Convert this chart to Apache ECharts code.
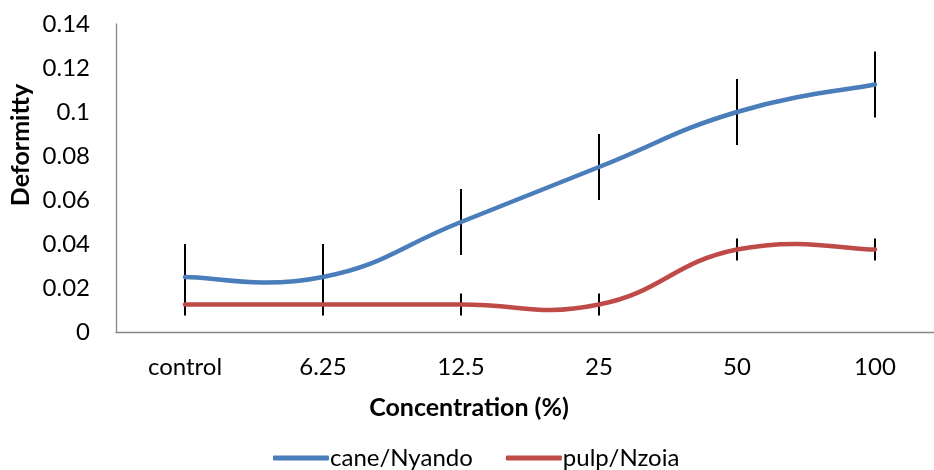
<!DOCTYPE html>
<html>
<head>
<meta charset="utf-8">
<script src="https://cdn.jsdelivr.net/npm/echarts@6/dist/echarts.min.js"></script>
<style>html,body{margin:0;padding:0;background:#fff}#c{width:934px;height:470px}</style>
</head>
<body>
<div id="c"></div>
<script>
const categories = ['control', '6.25', '12.5', '25', '50', '100'];
const caneNyando = [0.025, 0.025, 0.05, 0.075, 0.1, 0.1125];
const pulpNzoia = [0.0125, 0.0125, 0.0125, 0.0125, 0.0375, 0.0375];
const caneErr = [0.015, 0.015, 0.015, 0.015, 0.015, 0.015];
const pulpErr = [0.005, 0.005, 0.005, 0.005, 0.005, 0.005];
const yTicks = [0, 0.02, 0.04, 0.06, 0.08, 0.1, 0.12, 0.14];

const FONT = 'Lato';
const BLUE = '#4A7EBB';
const RED = '#BE4B48';
const TENSION = 0.23;

const errData = [];
categories.forEach((c, i) => {
  errData.push([i, caneNyando[i] - caneErr[i], caneNyando[i] + caneErr[i]]);
  errData.push([i, pulpNzoia[i] - pulpErr[i], pulpNzoia[i] + pulpErr[i]]);
});

function smoothRender(arr, color) {
  return (params, api) => {
    const P = arr.map((v, i) => api.coord([i, v]));
    let d = 'M' + P[0][0] + ',' + P[0][1];
    for (let i = 0; i < P.length - 1; i++) {
      const p0 = P[i - 1] || P[i], p1 = P[i], p2 = P[i + 1], p3 = P[i + 2] || P[i + 1];
      const c1 = [p1[0] + (p2[0] - p0[0]) * TENSION, p1[1] + (p2[1] - p0[1]) * TENSION];
      const c2 = [p2[0] - (p3[0] - p1[0]) * TENSION, p2[1] - (p3[1] - p1[1]) * TENSION];
      d += ' C' + c1[0] + ',' + c1[1] + ' ' + c2[0] + ',' + c2[1] + ' ' + p2[0] + ',' + p2[1];
    }
    return { type: 'path', shape: { pathData: d }, style: { fill: 'none', stroke: color, lineWidth: 4.5, lineCap: 'round', lineJoin: 'round' } };
  };
}

const chart = echarts.init(document.getElementById('c'));
chart.setOption({
  animation: false,
  grid: { left: 116, width: 828, top: 24, height: 308, containLabel: false, outerBoundsMode: 'none' },
  legend: {
    left: 268, top: 441,
    data: ['cane/Nyando', 'pulp/Nzoia'],
    icon: 'roundRect', itemWidth: 56, itemHeight: 5, itemGap: 33,
    textStyle: { fontFamily: FONT, fontSize: 24, color: '#000', padding: [0, 0, 0, -4] }
  },
  xAxis: {
    type: 'category', data: categories, boundaryGap: true,
    axisLine: { lineStyle: { color: '#868686', width: 1.3 } },
    axisTick: { show: false },
    axisLabel: { fontFamily: FONT, fontSize: 24, color: '#000', margin: 23 }
  },
  yAxis: {
    type: 'value', min: 0, max: 0.14, interval: 0.02,
    splitLine: { show: false },
    axisLine: { show: true, lineStyle: { color: '#868686', width: 1.3 } },
    axisTick: { show: false },
    axisLabel: { fontFamily: FONT, fontSize: 24, color: '#000', margin: 26,
      formatter: v => { const t = yTicks.find(x => Math.abs(x - v) < 1e-9); return String(+((t ?? v).toFixed(4))); } }
  },
  graphic: [
    { type: 'text', x: 469, y: 408, style: { text: 'Concentration (%)', fontFamily: FONT, fontWeight: 'bold', fontSize: 25, fill: '#000', align: 'center', verticalAlign: 'middle' } },
    { type: 'text', x: 21, y: 145, rotation: Math.PI / 2, style: { text: 'Deformitty', fontFamily: FONT, fontWeight: 'bold', fontSize: 25, fill: '#000', align: 'center', verticalAlign: 'middle' } }
  ],
  series: [
    {
      type: 'custom', name: 'err', z: 1, silent: true,
      data: errData,
      renderItem: (params, api) => {
        const a = api.coord([api.value(0), api.value(1)]);
        const b = api.coord([api.value(0), api.value(2)]);
        return { type: 'line', shape: { x1: a[0], y1: a[1], x2: b[0], y2: b[1] }, style: { stroke: '#000', lineWidth: 2 } };
      }
    },
    { type: 'custom', name: 'cane/Nyando', z: 3, silent: true, data: [[0, caneNyando[0]]],
      itemStyle: { color: BLUE }, renderItem: smoothRender(caneNyando, BLUE) },
    { type: 'custom', name: 'pulp/Nzoia', z: 3, silent: true, data: [[0, pulpNzoia[0]]],
      itemStyle: { color: RED }, renderItem: smoothRender(pulpNzoia, RED) }
  ]
});
</script>
</body>
</html>
